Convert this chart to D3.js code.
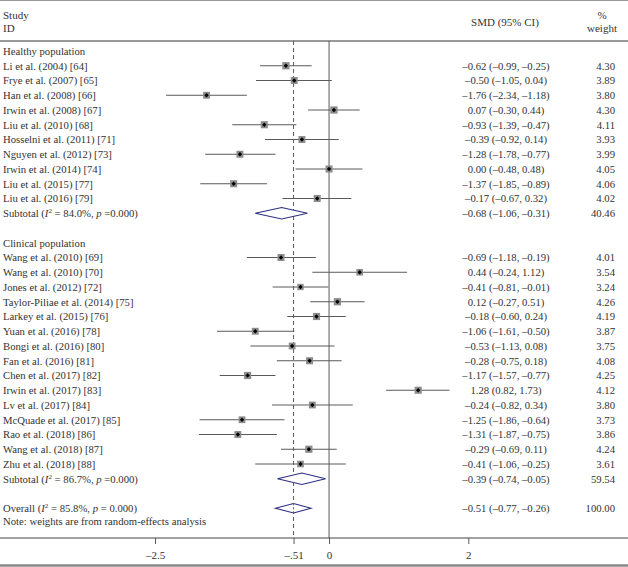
<!DOCTYPE html>
<html>
<head>
<meta charset="utf-8">
<script src="https://cdn.jsdelivr.net/npm/d3@7/dist/d3.min.js"></script>
<style>
  html, body { margin: 0; padding: 0; background: #fff; }
  svg { display: block; }
  text { font-family: "Liberation Serif", "DejaVu Serif", serif; fill: #333; }
</style>
</head>
<body>
<svg id="chart" width="628" height="567"></svg>
<script>
// ---------- DATA ----------
const healthyStudies = ["Li et al. (2004) [64]", "Frye et al. (2007) [65]", "Han et al. (2008) [66]", "Irwin et al. (2008) [67]", "Liu et al. (2010) [68]", "Hosselni et al. (2011) [71]", "Nguyen et al. (2012) [73]", "Irwin et al. (2014) [74]", "Liu et al. (2015) [77]", "Liu et al. (2016) [79]"];
const healthySMD = [-0.62, -0.50, -1.76, 0.07, -0.93, -0.39, -1.28, 0.00, -1.37, -0.17];
const healthyLow = [-0.99, -1.05, -2.34, -0.30, -1.39, -0.92, -1.78, -0.48, -1.85, -0.67];
const healthyHigh = [-0.25, 0.04, -1.18, 0.44, -0.47, 0.14, -0.77, 0.48, -0.89, 0.32];
const healthyWeight = [4.30, 3.89, 3.80, 4.30, 4.11, 3.93, 3.99, 4.05, 4.06, 4.02];
const healthyCI = ["–0.62 (–0.99, –0.25)", "–0.50 (–1.05, 0.04)", "–1.76 (–2.34, –1.18)", "0.07 (–0.30, 0.44)", "–0.93 (–1.39, –0.47)", "–0.39 (–0.92, 0.14)", "–1.28 (–1.78, –0.77)", "0.00 (–0.48, 0.48)", "–1.37 (–1.85, –0.89)", "–0.17 (–0.67, 0.32)"];

const clinicalStudies = ["Wang et al. (2010) [69]", "Wang et al. (2010) [70]", "Jones et al. (2012) [72]", "Taylor-Piliae et al. (2014) [75]", "Larkey et al. (2015) [76]", "Yuan et al. (2016) [78]", "Bongi et al. (2016) [80]", "Fan et al. (2016) [81]", "Chen et al. (2017) [82]", "Irwin et al. (2017) [83]", "Lv et al. (2017) [84]", "McQuade et al. (2017) [85]", "Rao et al. (2018) [86]", "Wang et al. (2018) [87]", "Zhu et al. (2018) [88]"];
const clinicalSMD = [-0.69, 0.44, -0.41, 0.12, -0.18, -1.06, -0.53, -0.28, -1.17, 1.28, -0.24, -1.25, -1.31, -0.29, -0.41];
const clinicalLow = [-1.18, -0.24, -0.81, -0.27, -0.60, -1.61, -1.13, -0.75, -1.57, 0.82, -0.82, -1.86, -1.87, -0.69, -1.06];
const clinicalHigh = [-0.19, 1.12, -0.01, 0.51, 0.24, -0.50, 0.08, 0.18, -0.77, 1.73, 0.34, -0.64, -0.75, 0.11, 0.24];
const clinicalWeight = [4.01, 3.54, 3.24, 4.26, 4.19, 3.87, 3.75, 4.08, 4.25, 4.12, 3.80, 3.73, 3.86, 4.24, 3.61];
const clinicalCI = ["–0.69 (–1.18, –0.19)", "0.44 (–0.24, 1.12)", "–0.41 (–0.81, –0.01)", "0.12 (–0.27, 0.51)", "–0.18 (–0.60, 0.24)", "–1.06 (–1.61, –0.50)", "–0.53 (–1.13, 0.08)", "–0.28 (–0.75, 0.18)", "–1.17 (–1.57, –0.77)", "1.28 (0.82, 1.73)", "–0.24 (–0.82, 0.34)", "–1.25 (–1.86, –0.64)", "–1.31 (–1.87, –0.75)", "–0.29 (–0.69, 0.11)", "–0.41 (–1.06, –0.25)"];

const pooledNames = ["Healthy subtotal", "Clinical subtotal", "Overall"];
const pooledSMD = [-0.68, -0.39, -0.51];
const pooledLow = [-1.06, -0.74, -0.77];
const pooledHigh = [-0.31, -0.05, -0.26];
const pooledWeight = ["40.46", "59.54", "100.00"];
const pooledCI = ["–0.68 (–1.06, –0.31)", "–0.39 (–0.74, –0.05)", "–0.51 (–0.77, –0.26)"];
const pooledI2 = ["84.0%", "86.7%", "85.8%"];
const pooledP = ["=0.000", "=0.000", "= 0.000"];

const tickValues = [-2.5, -0.51, 0, 2];
const tickLabels = ["–2.5", "–.51", "0", "2"];

// ---------- LAYOUT ----------
const W = 628, H = 567;
const svg = d3.select("#chart");
const x = d3.scaleLinear().domain([-2.5, 2]).range([155, 468.3]);
const row0 = 51, rowH = 14.75;
const y = i => row0 + rowH * i;
const headerLine = 41, axisY = 538;
const lineCol = "#5a5a5a";
const fs = 10.7;

// frame lines
svg.append("line").attr("x1", 0).attr("x2", W).attr("y1", 0.5).attr("y2", 0.5).attr("stroke", "#999").attr("stroke-width", 1.2);
svg.append("line").attr("x1", 0).attr("x2", W).attr("y1", headerLine).attr("y2", headerLine).attr("stroke", "#777").attr("stroke-width", 1.5);
svg.append("line").attr("x1", 0).attr("x2", W).attr("y1", 565.5).attr("y2", 565.5).attr("stroke", "#888").attr("stroke-width", 2.5);

// header text
const hdr = svg.append("g").style("font-size", "11px");
hdr.append("text").attr("x", 3).attr("y", 19).text("Study");
hdr.append("text").attr("x", 3).attr("y", 32).text("ID");
hdr.append("text").attr("x", 505).attr("y", 26).attr("text-anchor", "middle").text("SMD (95% CI)");
hdr.append("text").attr("x", 602).attr("y", 19).attr("text-anchor", "middle").text("%");
hdr.append("text").attr("x", 602).attr("y", 32).attr("text-anchor", "middle").text("weight");

// reference lines
svg.append("line").attr("x1", x(0)).attr("x2", x(0)).attr("y1", headerLine).attr("y2", axisY)
  .attr("stroke", lineCol).attr("stroke-width", 1);
svg.append("line").attr("x1", x(pooledSMD[2])).attr("x2", x(pooledSMD[2])).attr("y1", headerLine).attr("y2", axisY)
  .attr("stroke", lineCol).attr("stroke-width", 1).attr("stroke-dasharray", "4,3");

// axis
const axis = d3.axisBottom(x).tickValues(tickValues).tickSize(6).tickFormat((d, i) => tickLabels[i]);
const gAxis = svg.append("g").attr("transform", `translate(0,${axisY})`).call(axis);
gAxis.select(".domain").remove();
gAxis.selectAll(".tick line").attr("stroke", lineCol);
gAxis.selectAll(".tick text").attr("dy", 0).attr("y", 21).style("font-size", "11px").style("font-family", "Liberation Serif, serif").attr("fill", "#333");
svg.append("line").attr("x1", 0).attr("x2", W).attr("y1", axisY).attr("y2", axisY).attr("stroke", "#444").attr("stroke-width", 1);

// build rows
const rows = [];
rows.push({ type: "group", label: "Healthy population", r: 0 });
healthyStudies.forEach((s, i) => rows.push({ type: "study", label: s, est: healthySMD[i], lo: healthyLow[i], hi: healthyHigh[i], w: healthyWeight[i], ci: healthyCI[i], r: 1 + i }));
rows.push({ type: "pooled", k: 0, r: 11, label: "Subtotal" });
rows.push({ type: "group", label: "Clinical population", r: 13 });
clinicalStudies.forEach((s, i) => rows.push({ type: "study", label: s, est: clinicalSMD[i], lo: clinicalLow[i], hi: clinicalHigh[i], w: clinicalWeight[i], ci: clinicalCI[i], r: 14 + i }));
rows.push({ type: "pooled", k: 1, r: 29, label: "Subtotal" });
rows.push({ type: "pooled", k: 2, r: 31, label: "Overall" });

const g = svg.append("g").style("font-size", fs + "px");
const base = 3.8;

rows.forEach(d => {
  const yy = y(d.r);
  if (d.type === "group") {
    g.append("text").attr("x", 3).attr("y", yy + base).text(d.label);
  } else if (d.type === "study") {
    g.append("text").attr("x", 3).attr("y", yy + base).text(d.label);
    g.append("line").attr("x1", x(d.lo)).attr("x2", x(d.hi)).attr("y1", yy).attr("y2", yy)
      .attr("stroke", lineCol).attr("stroke-width", 1);
    const s = 3.5 * Math.sqrt(d.w);
    g.append("rect").attr("x", x(d.est) - s / 2).attr("y", yy - s / 2).attr("width", s).attr("height", s)
      .attr("fill", "#8c8c8c");
    const m = 2.2;
    g.append("path").attr("d", `M${x(d.est)},${yy - m}L${x(d.est) + m},${yy}L${x(d.est)},${yy + m}L${x(d.est) - m},${yy}Z`)
      .attr("fill", "#000");
    g.append("text").attr("x", 506).attr("y", yy + base).attr("text-anchor", "middle").text(d.ci);
    g.append("text").attr("x", 615).attr("y", yy + base).attr("text-anchor", "end").text(d.w.toFixed(2));
  } else {
    const k = d.k;
    const t = g.append("text").attr("x", 3).attr("y", yy + base);
    t.append("tspan").text(d.label + " (");
    t.append("tspan").style("font-style", "italic").text("I");
    t.append("tspan").attr("dy", -4).style("font-size", "7px").text("2");
    t.append("tspan").attr("dy", 4).text(" = " + pooledI2[k] + ", ");
    t.append("tspan").style("font-style", "italic").text("p");
    t.append("tspan").text(" " + pooledP[k] + ")");
    const h = k === 2 ? 4.8 : 5.8;
    g.append("path")
      .attr("d", `M${x(pooledLow[k])},${yy}L${x(pooledSMD[k])},${yy - h}L${x(pooledHigh[k])},${yy}L${x(pooledSMD[k])},${yy + h}Z`)
      .attr("fill", "#fff").attr("stroke", "#2b2f7f").attr("stroke-width", 1.1);
    g.append("text").attr("x", 506).attr("y", yy + base).attr("text-anchor", "middle").text(pooledCI[k]);
    g.append("text").attr("x", 615).attr("y", yy + base).attr("text-anchor", "end").text(pooledWeight[k]);
  }
});
// dashed line visible through the overall diamond
svg.append("line").attr("x1", x(pooledSMD[2])).attr("x2", x(pooledSMD[2])).attr("y1", y(31) - 5).attr("y2", y(31) + 5)
  .attr("stroke", lineCol).attr("stroke-width", 1).attr("stroke-dasharray", "2,2");

g.append("text").attr("x", 3).attr("y", 521 + base).text("Note: weights are from random-effects analysis");
</script>
</body>
</html>
